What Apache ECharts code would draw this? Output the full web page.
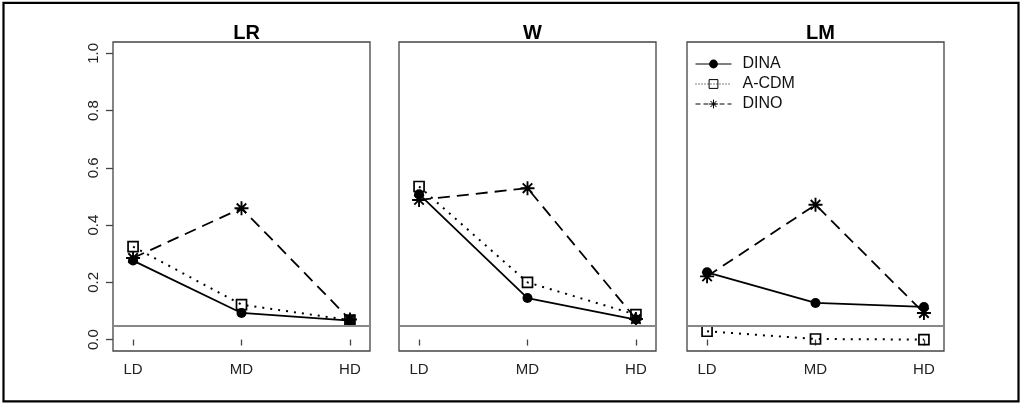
<!DOCTYPE html>
<html>
<head>
<meta charset="utf-8">
<script src="https://cdn.jsdelivr.net/npm/echarts@6/dist/echarts.min.js"></script>
<style>
html,body{margin:0;padding:0;background:#fff;}
#chart{width:1023px;height:403px;}
</style>
</head>
<body>
<div id="chart"></div>
<script>
// ---- data ----
var categories = ['LD', 'MD', 'HD'];
var panels = ['LR', 'W', 'LM'];
var seriesNames = ['DINA', 'A-CDM', 'DINO'];
var yTicks = [0, 0.2, 0.4, 0.6, 0.8, 1.0];
var referenceLevel = 0.05;

var LR_DINA = [0.276, 0.093, 0.066];
var LR_ACDM = [0.325, 0.122, 0.068];
var LR_DINO = [0.285, 0.459, 0.070];

var W_DINA = [0.508, 0.145, 0.070];
var W_ACDM = [0.535, 0.200, 0.087];
var W_DINO = [0.488, 0.529, 0.072];

var LM_DINA = [0.235, 0.128, 0.114];
var LM_ACDM = [0.029, 0.002, 0.000];
var LM_DINO = [0.221, 0.471, 0.093];

var panelData = [
  [LR_DINA, LR_ACDM, LR_DINO],
  [W_DINA, W_ACDM, W_DINO],
  [LM_DINA, LM_ACDM, LM_DINO]
];

// ---- styling / layout ----
var FONT = '"Liberation Sans", Arial, Helvetica, sans-serif';
var gridLefts = [113, 399, 687];
var gridWidth = 257;
var gridTop = 42;
var gridHeight = 309;
var asterisk = 'path://M5,0 L5,10 M0,5 L10,5 M1.6,1.6 L8.4,8.4 M1.6,8.4 L8.4,1.6';

var seriesStyles = [
  { symbol: 'circle', symbolSize: 10,
    itemStyle: { color: '#000' },
    lineStyle: { color: '#000', width: 1.8, type: 'solid' } },
  { symbol: 'rect', symbolSize: 10,
    itemStyle: { color: 'rgba(0,0,0,0)', borderColor: '#000', borderWidth: 1.7 },
    lineStyle: { color: '#000', width: 2, type: [2, 6] } },
  { symbol: asterisk, symbolSize: 14,
    itemStyle: { color: 'rgba(0,0,0,0)', borderColor: '#000', borderWidth: 1.9 },
    lineStyle: { color: '#000', width: 1.8, type: [12, 7] } }
];

function toPoints(arr) {
  return arr.map(function (v, i) { return [i + 1, v]; });
}

var grids = [], xAxes = [], yAxes = [], titles = [], series = [];
panels.forEach(function (p, k) {
  grids.push({ left: gridLefts[k], top: gridTop, width: gridWidth, height: gridHeight,
    show: true, borderColor: '#444', borderWidth: 1.3, backgroundColor: 'transparent' });
  xAxes.push({ type: 'value', gridIndex: k, min: 0.815, max: 3.185,
    axisLine: { show: false }, splitLine: { show: false },
    axisTick: { show: true, customValues: [1, 2, 3], length: 6, lineStyle: { color: '#444', width: 1.3 } },
    axisLabel: { show: true, customValues: [1, 2, 3], margin: 11,
      formatter: function (v) { return categories[Math.round(v) - 1]; },
      fontFamily: FONT, fontSize: 15, color: '#222' } });
  yAxes.push({ type: 'value', gridIndex: k, min: -0.04, max: 1.04,
    axisLine: { show: false }, splitLine: { show: false },
    axisTick: { show: k === 0, customValues: yTicks, length: 7, lineStyle: { color: '#444', width: 1.3 } },
    axisLabel: { show: k === 0, customValues: yTicks, rotate: 90, margin: 12,
      formatter: function (v) { return v.toFixed(1); },
      fontFamily: FONT, fontSize: 15, color: '#222' } });
  titles.push({ text: p, left: gridLefts[k] + gridWidth / 2, top: 18, textAlign: 'center',
    textStyle: { fontFamily: FONT, fontSize: 20, fontWeight: 'bold', color: '#000' } });
  seriesNames.forEach(function (name, j) {
    var s = {
      type: 'line', name: name, xAxisIndex: k, yAxisIndex: k,
      data: toPoints(panelData[k][j]),
      symbol: seriesStyles[j].symbol, symbolSize: seriesStyles[j].symbolSize,
      itemStyle: seriesStyles[j].itemStyle, lineStyle: seriesStyles[j].lineStyle,
      showSymbol: true, silent: true, animation: false, z: 3
    };
    if (j === 0) {
      s.markLine = { silent: true, symbol: ['none', 'none'], label: { show: false },
        lineStyle: { color: '#888', width: 2.2, type: 'solid' },
        data: [{ yAxis: referenceLevel }], animation: false };
    }
    series.push(s);
  });
});

var option = {
  backgroundColor: '#fff',
  animation: false,
  title: titles,
  grid: grids,
  xAxis: xAxes,
  yAxis: yAxes,
  legend: {
    orient: 'vertical', left: 690, top: 51, itemWidth: 36, itemHeight: 11, itemGap: 4,
    selectedMode: false,
    textStyle: { fontFamily: FONT, fontSize: 16, color: '#111', lineHeight: 16, padding: [0, 0, 0, 6] },
    data: [
      { name: 'DINA', lineStyle: { width: 1, type: 'solid', color: '#000' } },
      { name: 'A-CDM', lineStyle: { width: 1, type: [1, 2], color: '#000' }, itemStyle: { borderWidth: 1, borderColor: '#000', color: 'rgba(0,0,0,0)' } },
      { name: 'DINO', lineStyle: { width: 1, type: [5, 3], color: '#000' }, itemStyle: { borderWidth: 1, borderColor: '#000' } }
    ]
  },
  graphic: [{ type: 'rect', shape: { x: 3.5, y: 2.8, width: 1015, height: 398.5 }, silent: true,
    style: { fill: 'none', stroke: '#000', lineWidth: 2.2 }, z: 100 }],
  series: series
};

var chart = echarts.init(document.getElementById('chart'), null, { renderer: 'canvas' });
chart.setOption(option);
</script>
</body>
</html>
